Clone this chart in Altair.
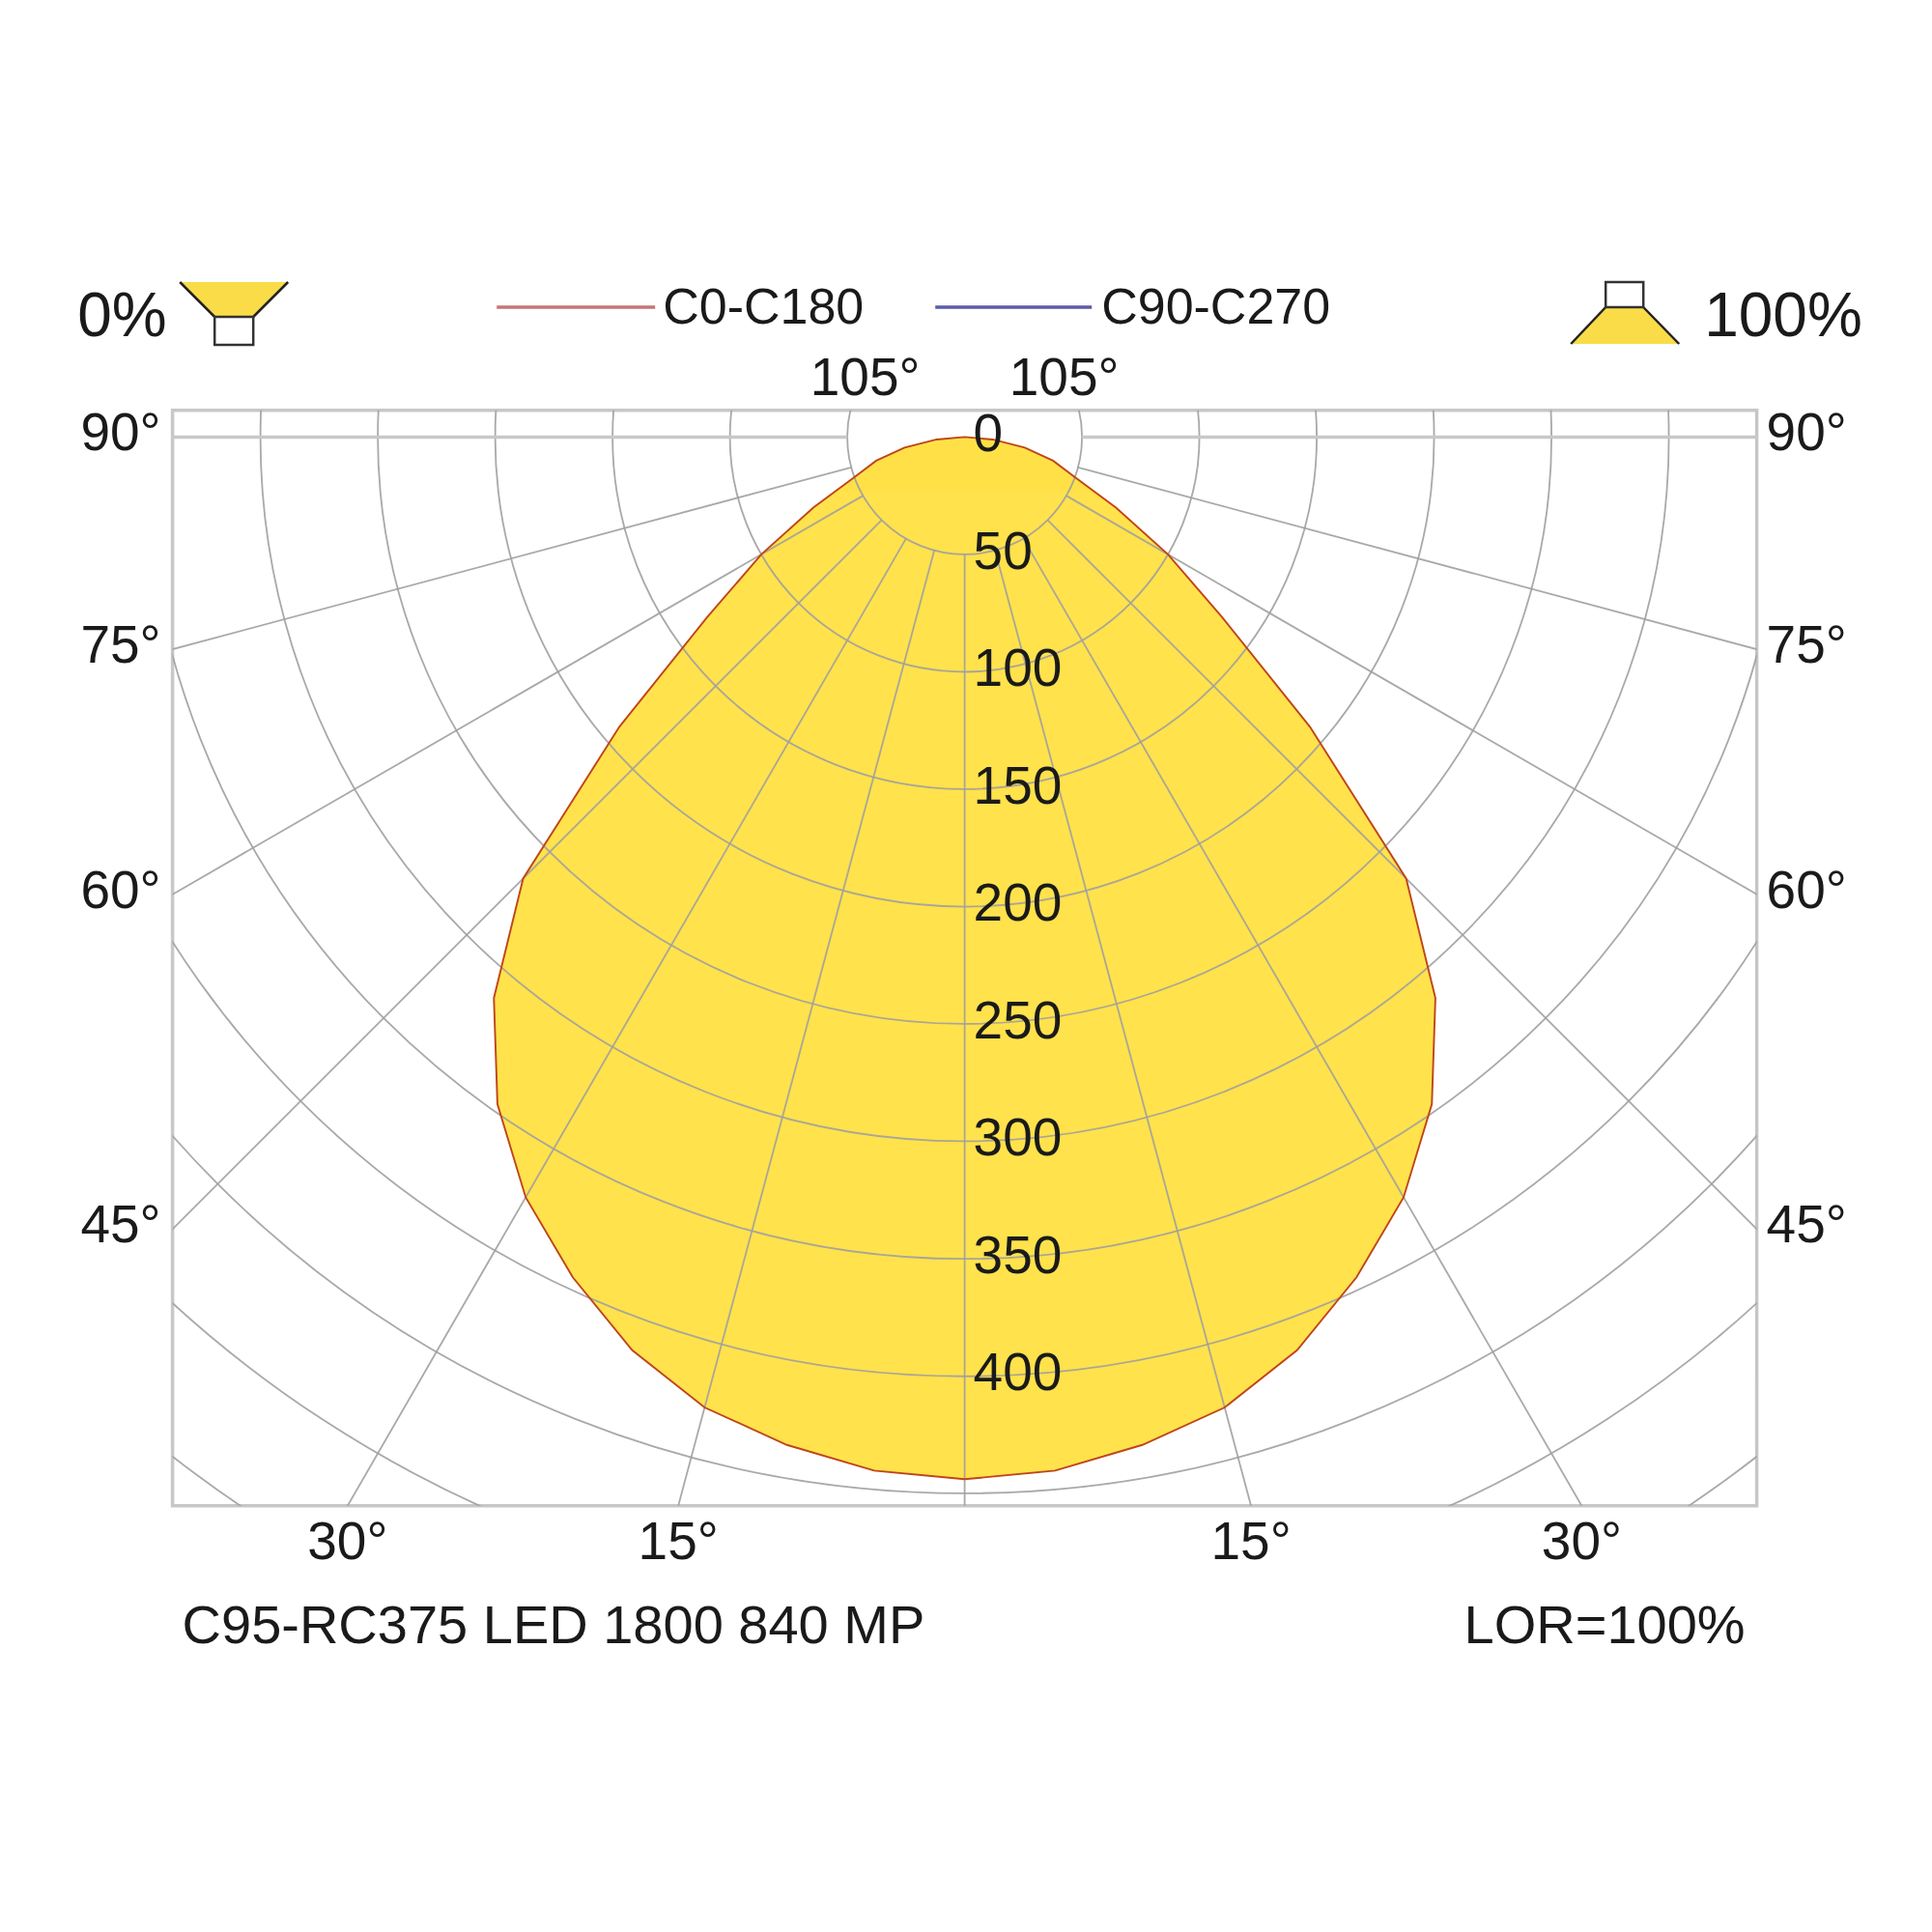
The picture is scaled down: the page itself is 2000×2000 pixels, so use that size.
import altair as alt
import numpy as np
import pandas as pd

# C0-C180 luminous intensity (cd/klm) against gamma (degrees from nadir)
gamma = [0, 5, 10, 15, 20, 25, 30, 35, 40, 45, 50, 55, 60, 65, 70, 75, 80, 85, 90]
c0_c180 = [444, 442, 436, 428, 414, 395, 374, 347, 312, 266, 192, 134, 100, 71, 50, 39, 26, 12, 0]

# polar grid
rings = [50, 100, 150, 200, 250, 300, 350, 400, 450, 500, 550]
ring_labels = [0, 50, 100, 150, 200, 250, 300, 350, 400]
spokes = [-105, -75, -60, -45, -30, -15, 0, 15, 30, 45, 60, 75, 105]
horizon = [-90, 90]
side_angles = [90, 75, 60, 45]
bottom_angles = [30, 15]
top_angles = [105]

legend_names = ['C0-C180', 'C90-C270']
legend_colors = ['#c47676', '#5b5ba8']
luminaire = 'C95-RC375 LED 1800 840 MP'
lor_text = 'LOR=100%'
down_text = '0%'
up_text = '100%'

# layout: pixels per cd, plot area size, position of the luminaire on the page
K = 2.43
W, H = 1640, 1134
CX, CY = 997.4, 452.4
XMAX = W / K / 2
YTOP = (CY - 424.8) / K
YBOT = YTOP - H / K

FONT = 'Liberation Sans'
INK = '#1a1a1a'
YELLOW = '#ffe24c'
GRID = '#a0a0a0'
FRAME = '#c8c8c8'

xs = alt.Scale(domain=[-XMAX, XMAX], nice=False, zero=False)
ys = alt.Scale(domain=[YBOT, YTOP], nice=False, zero=False)


def px_x(p):
    return (p - CX) / K


def px_y(p):
    return (CY - p) / K


def X(f):
    return alt.X(f, scale=xs, axis=None)


def Y(f):
    return alt.Y(f, scale=ys, axis=None)


# curve, mirrored on both sides
rad = np.radians(gamma)
curve = pd.DataFrame({
    'x': np.array(c0_c180) * np.sin(rad),
    'y': -np.array(c0_c180) * np.cos(rad),
})
curve['x2'] = -curve['x']

fill = alt.Chart(curve).mark_area(orient='horizontal', color=YELLOW, clip=True).encode(
    y=Y('y:Q'), x=X('x:Q'), x2='x2:Q'
)
outline = alt.Chart(curve).mark_area(
    orient='horizontal', fillOpacity=0, stroke='#bf4519', strokeWidth=1.9, clip=True
).encode(y=Y('y:Q'), x=X('x:Q'), x2='x2:Q')

# rings
ring_df = pd.DataFrame({'r': rings, 'cx': 0.0, 'cy': 0.0})
ring_chart = alt.Chart(ring_df).mark_point(
    shape='circle', filled=False, color=GRID, strokeWidth=1.8, opacity=0.9, clip=True
).encode(
    x=X('cx:Q'), y=Y('cy:Q'),
    size=alt.Size('r:Q', scale=alt.Scale(type='pow', exponent=2, domain=[0, 600],
                                         range=[0, (2 * 600 * K) ** 2]), legend=None)
)


def spoke_frame(angles):
    a = np.radians(angles)
    return pd.DataFrame({
        'x': 50 * np.sin(a), 'y': -50 * np.cos(a),
        'x2': 700 * np.sin(a), 'y2': -700 * np.cos(a),
    })


spoke_chart = alt.Chart(spoke_frame(spokes)).mark_rule(
    color=GRID, strokeWidth=1.8, opacity=0.9, clip=True
).encode(x=X('x:Q'), y=Y('y:Q'), x2='x2:Q', y2='y2:Q')

horizon_chart = alt.Chart(spoke_frame(horizon)).mark_rule(
    color=FRAME, strokeWidth=3.5, clip=True
).encode(x=X('x:Q'), y=Y('y:Q'), x2='x2:Q', y2='y2:Q')

# intensity labels on the nadir axis
val_df = pd.DataFrame({'v': ring_labels, 'x': 0.0})
val_df['y'] = -val_df['v']
val_chart = alt.Chart(val_df).mark_text(
    align='left', baseline='middle', dx=9, dy=-2, font=FONT, fontSize=55, color=INK
).encode(x=X('x:Q'), y=Y('y:Q'), text='v:N')

# angle labels round the frame
sa = np.radians(side_angles)
side_y = -XMAX * np.cos(sa) / np.sin(sa)
side_txt = [f'{a}°' for a in side_angles]
left_df = pd.DataFrame({'x': -XMAX, 'y': side_y, 't': side_txt})
right_df = pd.DataFrame({'x': XMAX, 'y': side_y, 't': side_txt})
left_chart = alt.Chart(left_df).mark_text(
    align='right', baseline='middle', dx=-12, dy=-3, font=FONT, fontSize=55, color=INK
).encode(x=X('x:Q'), y=Y('y:Q'), text='t:N')
right_chart = alt.Chart(right_df).mark_text(
    align='left', baseline='middle', dx=10, dy=-3, font=FONT, fontSize=55, color=INK
).encode(x=X('x:Q'), y=Y('y:Q'), text='t:N')

bx = -YBOT * np.tan(np.radians(bottom_angles))
bottom_df = pd.DataFrame({
    'x': np.concatenate([-bx, bx]), 'y': YBOT,
    't': [f'{a}°' for a in bottom_angles] * 2,
})
bottom_chart = alt.Chart(bottom_df).mark_text(
    align='center', baseline='middle', dy=38, font=FONT, fontSize=55, color=INK
).encode(x=X('x:Q'), y=Y('y:Q'), text='t:N')

tx = -YTOP * np.tan(np.radians(top_angles))
top_df = pd.DataFrame({
    'x': np.concatenate([-tx, tx]), 'y': YTOP,
    't': [f'{a}°' for a in top_angles] * 2,
})
top_chart = alt.Chart(top_df).mark_text(
    align='center', baseline='middle', dy=-33, font=FONT, fontSize=55, color=INK
).encode(x=X('x:Q'), y=Y('y:Q'), text='t:N')

# legend row
leg_y = px_y(318)
leg_lines = pd.DataFrame({
    'x': [px_x(513), px_x(967)], 'x2': [px_x(677), px_x(1129)],
    'y': leg_y, 'name': legend_names,
})
leg_line_chart = alt.Chart(leg_lines).mark_rule(strokeWidth=3.5).encode(
    x=X('x:Q'), x2='x2:Q', y=Y('y:Q'),
    color=alt.Color('name:N', scale=alt.Scale(domain=legend_names, range=legend_colors), legend=None)
)
leg_text = pd.DataFrame({'x': [px_x(685), px_x(1139)], 'y': px_y(319), 't': legend_names})
leg_text_chart = alt.Chart(leg_text).mark_text(
    align='left', baseline='middle', font=FONT, fontSize=52, color=INK
).encode(x=X('x:Q'), y=Y('y:Q'), text='t:N')

pct = pd.DataFrame({'x': [px_x(79), px_x(1763)], 'y': px_y(329), 't': [down_text, up_text]})
pct_chart = alt.Chart(pct).mark_text(
    align='left', baseline='middle', font=FONT, fontSize=64, color=INK
).encode(x=X('x:Q'), y=Y('y:Q'), text='t:N')

# luminaire icons: light cone (trapezoid) and housing (box)
cones = pd.DataFrame({
    'icon': ['down', 'down', 'up', 'up'],
    'y': [px_y(292), px_y(328), px_y(318), px_y(356)],
    'xl': [px_x(185), px_x(221), px_x(1661), px_x(1625)],
    'xr': [px_x(297), px_x(261), px_x(1700), px_x(1737)],
})
cone_fill = alt.Chart(cones).mark_area(orient='horizontal', color='#f9dc48').encode(
    y=Y('y:Q'), x=X('xl:Q'), x2='xr:Q', detail='icon:N'
)
edges = pd.DataFrame({
    'x': [px_x(185), px_x(297), px_x(1661), px_x(1700)],
    'y': [px_y(292), px_y(292), px_y(318), px_y(318)],
    'x2': [px_x(221), px_x(261), px_x(1625), px_x(1737)],
    'y2': [px_y(328), px_y(328), px_y(356), px_y(356)],
})
edge_chart = alt.Chart(edges).mark_rule(color='#222', strokeWidth=2.5).encode(
    x=X('x:Q'), y=Y('y:Q'), x2='x2:Q', y2='y2:Q'
)
boxes = pd.DataFrame({
    'x': [px_x(221), px_x(1661)], 'x2': [px_x(261), px_x(1700)],
    'y': [px_y(328), px_y(292)], 'y2': [px_y(357), px_y(318)],
})
box_chart = alt.Chart(boxes).mark_rect(fill='white', stroke='#333', strokeWidth=2.5).encode(
    x=X('x:Q'), x2='x2:Q', y=Y('y:Q'), y2='y2:Q'
)

# footer
foot = pd.DataFrame({'x': [-XMAX, XMAX], 'y': YBOT, 't': [luminaire, lor_text]})
foot_left = alt.Chart(foot.iloc[[0]]).mark_text(
    align='left', baseline='middle', dx=10, dy=125, font=FONT, fontSize=56, color=INK
).encode(x=X('x:Q'), y=Y('y:Q'), text='t:N')
foot_right = alt.Chart(foot.iloc[[1]]).mark_text(
    align='right', baseline='middle', dx=-12, dy=125, font=FONT, fontSize=56, color=INK
).encode(x=X('x:Q'), y=Y('y:Q'), text='t:N')

chart = alt.layer(
    fill, ring_chart, spoke_chart, horizon_chart, outline, val_chart,
    left_chart, right_chart, bottom_chart, top_chart,
    leg_line_chart, leg_text_chart, pct_chart,
    cone_fill, edge_chart, box_chart, foot_left, foot_right,
).properties(
    width=W, height=H,
    autosize=alt.AutoSizeParams(type='none'),
    padding={'left': 170.6, 'top': 416.8, 'right': 170, 'bottom': 400},
    background='white',
).configure_view(stroke=FRAME, strokeWidth=3.5)

chart.save('out.html', embed_options={'renderer': 'svg', 'actions': False})
